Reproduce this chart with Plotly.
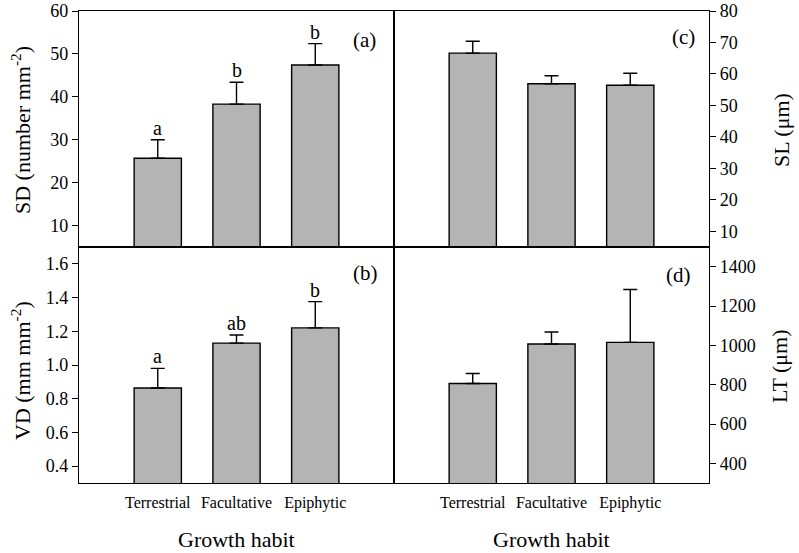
import plotly.graph_objects as go
from plotly.subplots import make_subplots

categories = ["Terrestrial", "Facultative", "Epiphytic"]

sd_mean = [25.7, 38.3, 47.4]
sd_upper = [30.0, 43.4, 52.4]
sd_letters = ["a", "b", "b"]

sl_mean = [66.6, 56.9, 56.4]
sl_upper = [70.4, 59.4, 60.2]

vd_mean = [0.864, 1.130, 1.220]
vd_upper = [0.980, 1.178, 1.376]
vd_letters = ["a", "ab", "b"]

lt_mean = [806, 1007, 1015]
lt_upper = [857, 1068, 1284]

panel_labels = ["(a)", "(c)", "(b)", "(d)"]

FONT = "Liberation Serif, Times New Roman, serif"
BAR = "#b4b4b4"

W, H = 799, 553
ML, MR, MT, MB = 79, 90, 11, 70
PW, PH = W - ML - MR, H - MT - MB


def px_x(p):
    return (p - ML) / PW


def px_y(p):
    return (H - MB - p) / PH


fig = make_subplots(rows=2, cols=2, horizontal_spacing=0, vertical_spacing=0)

panels = [
    (1, 1, sd_mean, sd_upper),
    (1, 2, sl_mean, sl_upper),
    (2, 1, vd_mean, vd_upper),
    (2, 2, lt_mean, lt_upper),
]
for r, c, m, u in panels:
    fig.add_trace(go.Bar(
        x=categories, y=m, width=0.6,
        marker=dict(color=BAR, line=dict(color="black", width=1.4)),
        error_y=dict(type="data", symmetric=False,
                     array=[ui - mi for ui, mi in zip(u, m)],
                     arrayminus=[0] * len(m),
                     color="black", thickness=1.4, width=7),
        showlegend=False,
    ), row=r, col=c)

# significance letters
for r, letters, upper in [(1, sd_letters, sd_upper), (2, vd_letters, vd_upper)]:
    for cat, lt, up in zip(categories, letters, upper):
        fig.add_annotation(x=cat, y=up, text=lt, showarrow=False,
                           xref=f"x{'' if r == 1 else 3}", yref=f"y{'' if r == 1 else 3}",
                           yanchor="bottom", yshift=-1,
                           font=dict(family=FONT, size=20, color="black"))

# panel labels
label_pos = [(0.948, 0.877), (0.963, 0.89), (0.955, 0.89), (0.95, 0.881)]
for ax, lab, (lx, ly) in zip(["x", "x2", "x3", "x4"], panel_labels, label_pos):
    yax = ax.replace("x", "y")
    fig.add_annotation(x=lx, y=ly, xref=f"{ax} domain", yref=f"{yax} domain",
                       text=lab, showarrow=False, xanchor="right", yanchor="middle",
                       font=dict(family=FONT, size=21, color="black"))

tf = dict(family=FONT, size=22, color="black")
# axis titles as annotations
fig.add_annotation(x=px_x(21), y=px_y(130), xref="paper", yref="paper", text="SD (number mm<sup>-2</sup>)",
                   textangle=-90, showarrow=False, font=tf, xanchor="center", yanchor="middle")
fig.add_annotation(x=px_x(21), y=px_y(370), xref="paper", yref="paper", text="VD (mm mm<sup>-2</sup>)",
                   textangle=-90, showarrow=False, font=tf, xanchor="center", yanchor="middle")
fig.add_annotation(x=px_x(781), y=px_y(130), xref="paper", yref="paper", text="SL (μm)",
                   textangle=-90, showarrow=False, font=tf, xanchor="center", yanchor="middle")
fig.add_annotation(x=px_x(779), y=px_y(366), xref="paper", yref="paper", text="LT (μm)",
                   textangle=-90, showarrow=False, font=tf, xanchor="center", yanchor="middle")
for xd in ["x3", "x4"]:
    fig.add_annotation(x=0.5, y=px_y(539), xref=f"{xd} domain", yref="paper", text="Growth habit",
                       showarrow=False, font=tf, xanchor="center", yanchor="middle")

common_x = dict(type="category", range=[-1, 3], showline=True, linecolor="black",
                linewidth=1.4, mirror=True, ticks="", showgrid=False, zeroline=False,
                automargin=False,
                tickfont=dict(family=FONT, size=16, color="black"))
for i in range(1, 5):
    fig.update_xaxes(common_x, row=(i - 1) // 2 + 1, col=(i - 1) % 2 + 1)
fig.update_xaxes(showticklabels=False, row=1)
fig.update_xaxes(ticklabelstandoff=5, row=2)

common_y = dict(showline=True, linecolor="black", linewidth=1.4, mirror=True,
                ticks="outside", ticklen=6, tickcolor="black", tickwidth=1.4,
                showgrid=False, zeroline=False, automargin=False,
                tickfont=dict(family=FONT, size=18, color="black"))
fig.update_yaxes(common_y, range=[5, 60], tickvals=[10, 20, 30, 40, 50, 60], row=1, col=1)
fig.update_yaxes(common_y, range=[5, 80], tickvals=[10, 20, 30, 40, 50, 60, 70, 80],
                 side="right", row=1, col=2)
fig.update_yaxes(common_y, range=[0.3, 1.7], tickvals=[0.4, 0.6, 0.8, 1.0, 1.2, 1.4, 1.6],
                 tickformat=".1f", row=2, col=1)
fig.update_yaxes(common_y, range=[300, 1500], tickvals=[400, 600, 800, 1000, 1200, 1400],
                 side="right", row=2, col=2)

fig.update_layout(
    width=W, height=H,
    margin=dict(l=ML, r=MR, t=MT, b=MB),
    plot_bgcolor="white", paper_bgcolor="white",
    font=dict(family=FONT, color="black"),
)

fig.write_html("out.html", config={"displayModeBar": False},
               post_script="document.body.style.margin='0px';")
